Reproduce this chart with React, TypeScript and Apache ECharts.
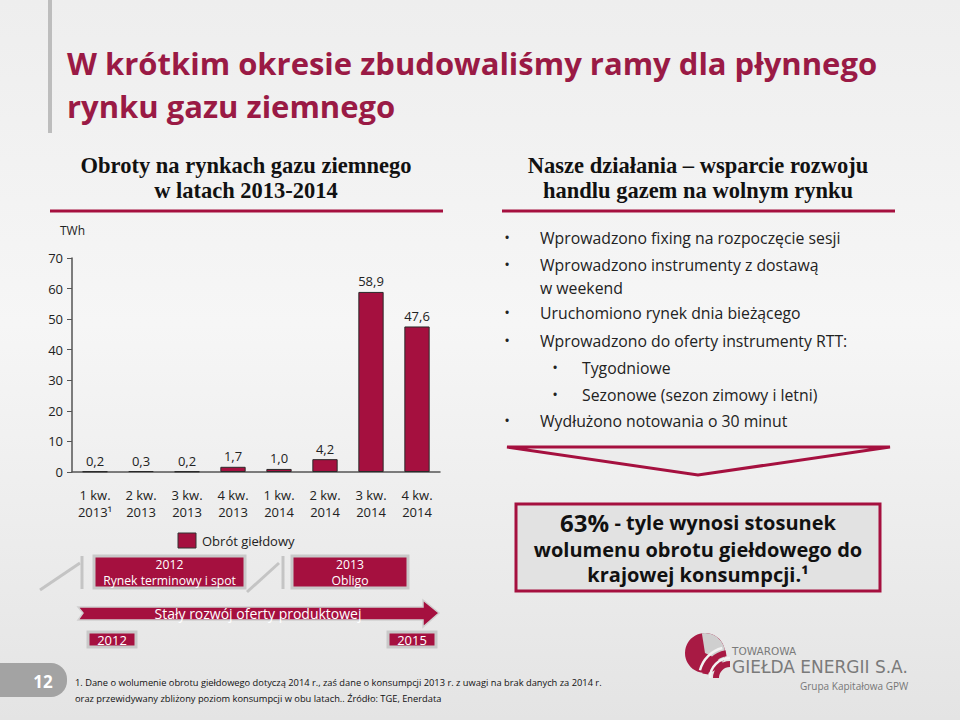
import React, { useEffect, useRef } from "react";
import * as echarts from "echarts";

const categories = ["1 kw.\n2013¹", "2 kw.\n2013", "3 kw.\n2013", "4 kw.\n2013", "1 kw.\n2014", "2 kw.\n2014", "3 kw.\n2014", "4 kw.\n2014"];
const values = [0.2, 0.3, 0.2, 1.7, 1.0, 4.2, 58.9, 47.6];
const yTicks = { min: 0, max: 70, interval: 10 };
const titleLines = ["W krótkim okresie zbudowaliśmy ramy dla płynnego", "rynku gazu ziemnego"];
const leftHeading = ["Obroty na rynkach gazu ziemnego", "w latach 2013-2014"];
const rightHeading = ["Nasze działania – wsparcie rozwoju", "handlu gazem na wolnym rynku"];
const bullets: [number, string][] = [
  [0, "Wprowadzono fixing na rozpoczęcie sesji"],
  [0, "Wprowadzono instrumenty z dostawą\nw weekend"],
  [0, "Uruchomiono rynek dnia bieżącego"],
  [0, "Wprowadzono do oferty instrumenty RTT:"],
  [1, "Tygodniowe"],
  [1, "Sezonowe (sezon zimowy i letni)"],
  [0, "Wydłużono notowania o 30 minut"],
];
const bulletY = [237, 264, 312, 340, 367, 394, 420];
const footnote = [
  "1. Dane o wolumenie obrotu giełdowego dotyczą 2014 r., zaś dane o konsumpcji 2013 r. z uwagi na brak danych za 2014 r.",
  "oraz przewidywany zbliżony poziom konsumpcji w obu latach.. Źródło: TGE, Enerdata",
];

const CRIMSON = "#a5103f";
const TITLE = "#9a1a45";
const SANS = "'Open Sans', 'Noto Sans', sans-serif";
const SERIF = "'Liberation Serif', 'DejaVu Serif', serif";

function buildGraphics() {
  const g: any[] = [];
  const txt = (x: number, y: number, text: string, font: string, fill: string, align = "left", extra: any = {}) =>
    g.push({ type: "text", x, y, style: { text, font, fill, textAlign: align, textVerticalAlign: "middle", ...extra } });

  // title bar
  g.push({ type: "rect", shape: { x: 48, y: 0, width: 4, height: 133 }, style: { fill: "#bdbdbd" } });
  txt(67, 63, titleLines[0], `bold 31px ${SANS}`, TITLE);
  txt(67, 106, titleLines[1], `bold 31px ${SANS}`, TITLE);

  // headings
  txt(246, 165, leftHeading[0], `bold 22.5px ${SERIF}`, "#111", "center");
  txt(246, 190, leftHeading[1], `bold 22.5px ${SERIF}`, "#111", "center");
  g.push({ type: "line", shape: { x1: 50, y1: 211, x2: 443, y2: 211 }, style: { stroke: CRIMSON, lineWidth: 3 } });
  txt(698, 165, rightHeading[0], `bold 22.5px ${SERIF}`, "#111", "center");
  txt(698, 190, rightHeading[1], `bold 22.5px ${SERIF}`, "#111", "center");
  g.push({ type: "line", shape: { x1: 502, y1: 211, x2: 895, y2: 211 }, style: { stroke: CRIMSON, lineWidth: 3 } });

  // bullets
  bullets.forEach(([lvl, t], i) => {
    const y = bulletY[i];
    const bx = lvl === 0 ? 507 : 555;
    const tx = lvl === 0 ? 540 : 582;
    txt(bx, y, "•", `15px ${SANS}`, "#222", "center");
    g.push({
      type: "text", x: tx, y: y - 11,
      style: { text: t, font: `15.8px ${SANS}`, fill: "#222", textAlign: "left", textVerticalAlign: "top", lineHeight: 23 },
    });
  });

  // down arrow triangle
  g.push({ type: "polygon", shape: { points: [[507, 447], [890, 447], [698, 475]] }, style: { fill: "#ececec", stroke: CRIMSON, lineWidth: 3 } });

  // 63% box
  g.push({ type: "rect", shape: { x: 516, y: 504, width: 364, height: 87 }, style: { fill: "#e2e2e2", stroke: CRIMSON, lineWidth: 3 } });
  g.push({
    type: "text", x: 698, y: 522,
    style: {
      text: "{a|63%}{b| - tyle wynosi stosunek}", textAlign: "center", textVerticalAlign: "middle",
      rich: {
        a: { font: `bold 24px ${SANS}`, fill: "#111", lineHeight: 24 },
        b: { font: `bold 20px ${SANS}`, fill: "#111", lineHeight: 24 },
      },
    },
  });
  txt(698, 549, "wolumenu obrotu giełdowego do", `bold 20px ${SANS}`, "#111", "center");
  txt(698, 574, "krajowej konsumpcji.¹", `bold 20px ${SANS}`, "#111", "center");

  // TWh label
  txt(60, 230, "TWh", `12px ${SANS}`, "#222");

  // legend
  g.push({ type: "rect", shape: { x: 178, y: 533, width: 18, height: 15 }, style: { fill: CRIMSON, stroke: "#333", lineWidth: 1 } });
  txt(202, 541, "Obrót giełdowy", `13px ${SANS}`, "#222");

  // timeline connectors
  g.push({ type: "line", shape: { x1: 40, y1: 590, x2: 80, y2: 563 }, style: { stroke: "#c4c4c4", lineWidth: 3 } });
  g.push({ type: "line", shape: { x1: 82, y1: 556, x2: 82, y2: 589 }, style: { stroke: "#c4c4c4", lineWidth: 3 } });
  g.push({ type: "line", shape: { x1: 247, y1: 592, x2: 279, y2: 563 }, style: { stroke: "#c4c4c4", lineWidth: 3 } });
  g.push({ type: "line", shape: { x1: 283, y1: 556, x2: 283, y2: 589 }, style: { stroke: "#c4c4c4", lineWidth: 3 } });

  const box = (x: number, y: number, w: number, h: number, lines: string[], fs: number, lh = 15) => {
    g.push({ type: "rect", shape: { x, y, width: w, height: h }, style: { fill: CRIMSON, stroke: "#c9c9c9", lineWidth: 3 } });
    const cy = y + h / 2 + 0.5;
    lines.forEach((l, i) =>
      txt(x + w / 2, cy + (i - (lines.length - 1) / 2) * lh, l, `${fs}px ${SANS}`, "#fff", "center"));
  };
  box(94, 556, 151, 32, ["2012", "Rynek terminowy i spot"], 12.2, 16);
  box(292, 556, 116, 32, ["2013", "Obligo"], 12.2, 16);

  // arrow
  g.push({
    type: "polygon",
    shape: { points: [[78, 607], [423, 607], [423, 600], [439, 613], [423, 627], [423, 620], [78, 620], [83, 613]] },
    style: { fill: CRIMSON, stroke: "#d0d0d0", lineWidth: 1.5 },
  });
  txt(258, 613, "Stały rozwój oferty produktowej", `14px ${SANS}`, "#fff", "center");

  box(88, 632, 48, 15, ["2012"], 13);
  box(388, 632, 48, 15, ["2015"], 13);

  // page number
  g.push({ type: "rect", shape: { x: -20, y: 663, width: 87, height: 34, r: 16 }, style: { fill: "#a3a3a3" } });
  txt(43, 681, "12", `bold 17px ${SANS}`, "#fff", "center");

  // footnote
  txt(75, 682, footnote[0], `9.3px ${SANS}`, "#111");
  txt(75, 698, footnote[1], `9.3px ${SANS}`, "#111");

  // logo
  const LC = "#a81a44";
  g.push({ type: "circle", shape: { cx: 705, cy: 653, r: 20 }, style: { fill: LC } });
  g.push({ type: "sector", shape: { cx: 705, cy: 653, r0: 0, r: 20, startAngle: -Math.PI * 0.55, endAngle: Math.PI * 0.15 }, style: { fill: "#cfcfcf" } });
  g.push({ type: "arc", shape: { cx: 730, cy: 678, r: 14, startAngle: Math.PI * 1.0, endAngle: Math.PI * 1.5 }, style: { stroke: LC, lineWidth: 6, fill: "none" } });
  g.push({ type: "arc", shape: { cx: 730, cy: 678, r: 25, startAngle: Math.PI * 1.05, endAngle: Math.PI * 1.45 }, style: { stroke: LC, lineWidth: 6, fill: "none" } });
  g.push({ type: "arc", shape: { cx: 730, cy: 678, r: 20, startAngle: Math.PI * 1.0, endAngle: Math.PI * 1.5 }, style: { stroke: "#f2f2f2", lineWidth: 2.5, fill: "none" } });
  g.push({ type: "arc", shape: { cx: 730, cy: 678, r: 31, startAngle: Math.PI * 1.08, endAngle: Math.PI * 1.42 }, style: { stroke: "#f2f2f2", lineWidth: 2.5, fill: "none" } });
  txt(732, 651, "TOWAROWA", `10.5px 'DejaVu Sans', sans-serif`, "#7a7a7a");
  txt(732, 667, "GIEŁDA ENERGII S.A.", `17px 'DejaVu Sans', sans-serif`, "#7a7a7a");
  txt(800, 686, "Grupa Kapitałowa GPW", `10px ${SANS}`, "#777");

  return g;
}

export default function App() {
  const ref = useRef<HTMLDivElement>(null);
  useEffect(() => {
    if (!ref.current) return;
    const chart = echarts.init(ref.current, undefined, { renderer: "svg" });
    chart.setOption({
      animation: false,
      backgroundColor: new echarts.graphic.LinearGradient(0, 0, 0, 1, [
        { offset: 0, color: "#eeeeee" },
        { offset: 0.45, color: "#f6f6f6" },
        { offset: 1, color: "#e4e4e4" },
      ]),
      grid: { left: 72, right: 520, top: 258, bottom: 248 },
      xAxis: {
        type: "category",
        data: categories,
        axisTick: { show: false },
        axisLine: { lineStyle: { color: "#555", width: 1.5 } },
        axisLabel: { interval: 0, fontSize: 13, lineHeight: 17, margin: 14, color: "#222", fontFamily: SANS },
      },
      yAxis: {
        type: "value",
        min: yTicks.min,
        max: yTicks.max,
        interval: yTicks.interval,
        splitLine: { show: false },
        axisLine: { show: true, lineStyle: { color: "#555", width: 1.5 } },
        axisTick: { show: true, length: 5, lineStyle: { color: "#555" } },
        axisLabel: { fontSize: 13, color: "#222", margin: 9, fontFamily: SANS },
      },
      series: [
        {
          type: "bar",
          data: values,
          barWidth: "55%",
          itemStyle: { color: CRIMSON, borderColor: "#2a2a2a", borderWidth: 1 },
          label: {
            show: true,
            position: "top",
            distance: 4,
            fontSize: 13,
            color: "#222",
            fontFamily: SANS,
            formatter: (p: any) => Number(p.value).toFixed(1).replace(".", ","),
          },
        },
      ],
      graphic: { elements: buildGraphics() },
    });
    return () => chart.dispose();
  }, []);
  return <div ref={ref} style={{ position: "fixed", left: 0, top: 0, width: 960, height: 720 }} />;
}
